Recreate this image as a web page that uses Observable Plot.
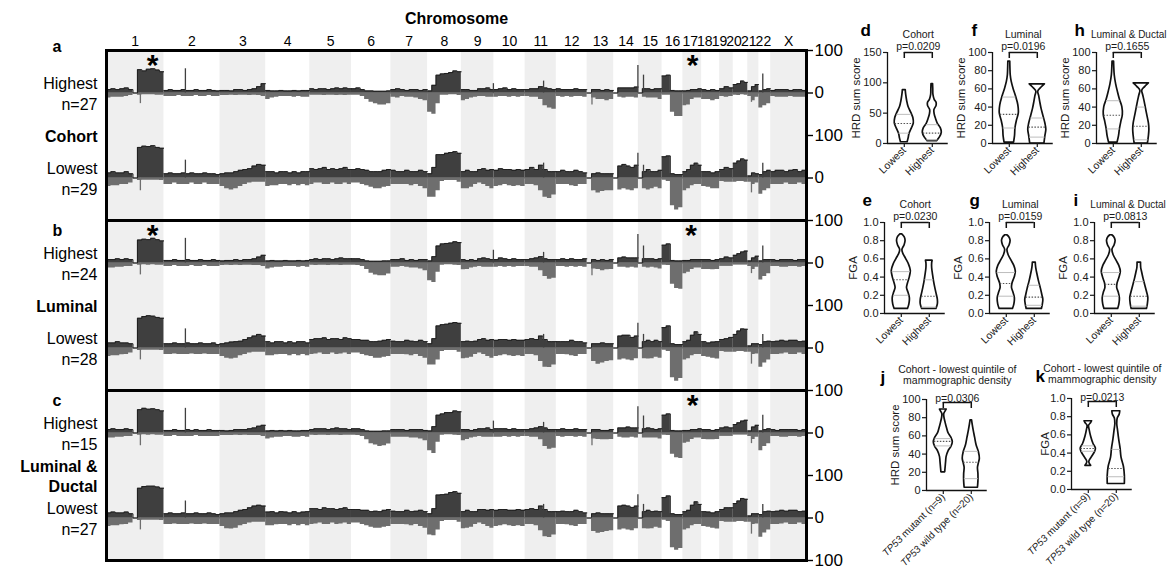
<!DOCTYPE html>
<html><head><meta charset="utf-8">
<script src="https://cdn.jsdelivr.net/npm/d3@7"></script>
<script src="https://cdn.jsdelivr.net/npm/@observablehq/plot@0.6"></script>
<style>
body{margin:0;background:#fff;font-family:"Liberation Sans",Arial,sans-serif;}
#fig{position:relative;width:1167px;height:569px;overflow:hidden;background:#fff;}
#fig svg{position:absolute;}
</style></head><body><div id="fig"></div>
<script>
// ---------- genome ----------
const chromNames = ["1","2","3","4","5","6","7","8","9","10","11","12","13","14","15","16","17","18","19","20","21","22","X"];
const chromLengths = [249.25,243.2,198.0,191.2,180.9,171.1,159.1,146.4,141.2,135.5,135.0,133.9,115.2,107.3,102.5,90.4,81.2,78.1,59.1,63.0,48.1,51.3,155.3];
const panels = ["a","b","c"];
const groupNames = ["Cohort","Luminal","Luminal &\nDuctal"];
const highestLabels = ["Highest\nn=27","Highest\nn=24","Highest\nn=15"];
const lowestLabels = ["Lowest\nn=29","Lowest\nn=28","Lowest\nn=27"];
const axisTickValues = [0,-100,-200,-300];
const axisTopTick = [100];

// ---------- frequencies (% of samples), one inner array per chromosome ----------
const aHighGain = [[8,10,8,10,12,8,0,55,52,56,57,54,50],[6,8,6,6,8,6,6,8,6,6,8,6,5],[6,6,5,8,8,6,8,10,15,22],[6,5,5,6,5,5,6,5,6,6],[10,8,10,10,8,10,12,10,12,10],[10,12,8,5,5,4,4,4,5],[8,10,8,6,8,8,6,8],[5,18,42,45,46,48,52,50],[8,8,6,6,10,10,12,8],[8,10,12,8,10,8,8],[8,10,10,15,12,10,8],[10,8,8,8,10,8,8],[0,8,8,6,8,6],[0,12,12,12,12,14],[0,10,10,8,10,10],[40,42,6,5,5],[5,6,8,8,10],[8,6,8,6],[10,15,12],[20,22,28,25],[5,15,20],[5,8,10],[6,8,8,8,6,8,8,6]];
const aHighLoss = [[12,10,10,10,8,6,0,5,4,4,4,5,5],[8,8,8,6,8,8,8,6,8,8,6,8,8],[6,6,5,6,5,5,6,5,6,8],[15,12,10,8,8,8,10,8,10,10],[5,5,5,6,5,5,6,5,6,5],[5,5,8,15,22,25,28,28,25],[10,12,8,10,10,12,15,18],[45,50,25,5,5,4,4,6],[18,15,12,10,8,8,10,10],[10,8,8,10,8,10,8],[8,10,10,15,30,35,38],[8,10,8,10,8,8,10],[0,12,15,15,18,15],[0,10,12,10,10,12],[0,10,12,12,12,15],[5,5,45,55,55],[30,28,15,12,12],[15,15,18,15],[8,10,8],[5,6,4,5],[8,18,10],[35,30,25],[8,10,10,10,8,10,10,10]];
const aLowGain = [[12,15,12,12,15,10,0,72,75,74,76,72,70],[10,12,10,10,12,10,12,10,10,12,10,10,8],[10,12,12,15,18,20,22,28,32,30],[15,15,12,15,15,12,15,12,15,15],[22,20,22,25,20,22,20,22,25,20],[20,22,20,18,15,15,15,18,20],[18,15,15,18,15,15,18,15],[10,25,55,55,58,60,62,58],[15,18,15,15,20,22,18,20],[18,22,20,20,18,20,18],[20,25,20,30,20,15,15],[15,18,15,15,18,15,12],[0,10,12,10,10,10],[0,28,32,28,25,30],[0,15,20,15,15,18],[50,52,10,8,8],[15,20,30,35,30],[15,15,12,15],[20,25,22],[35,40,45,42],[5,12,10],[8,15,18],[15,18,18,15,18,20,15,18]];
const aLowLoss = [[20,18,18,15,15,12,0,6,5,5,5,5,6],[15,15,12,15,15,15,12,15,15,12,15,15,15],[20,25,28,25,20,15,12,10,10,10],[20,18,18,15,15,18,15,18,15,18],[15,12,12,15,15,12,15,15,12,15],[12,12,15,18,22,25,25,22,20],[15,15,15,15,18,15,20,25],[45,45,30,8,6,6,6,10],[25,25,22,15,12,15,20,25],[20,18,15,18,20,18,20],[15,15,18,30,45,48,40],[15,15,15,18,20,15,15],[0,30,35,32,30,30],[0,28,25,28,30,25],[0,25,28,25,22,25],[5,8,65,75,70],[30,25,18,15,15],[20,22,25,25],[8,10,10],[10,8,8,10],[10,15,12],[38,30,25],[15,15,15,12,15,15,12,15]];
const bHighGain = [[8,8,10,8,10,8,0,54,56,55,58,55,52],[6,6,8,6,6,8,6,6,8,6,6,8,6],[5,6,6,8,6,8,8,10,14,18],[5,6,5,5,6,5,5,6,5,6],[8,10,8,10,10,8,10,12,10,10],[10,10,8,5,4,4,4,5,5],[8,8,10,6,8,6,8,8],[5,15,40,45,46,47,50,48],[8,6,8,6,10,12,10,8],[8,12,10,8,10,8,8],[8,10,12,15,10,8,8],[8,10,8,10,8,8,10],[0,8,6,8,6,8],[0,12,14,12,12,12],[0,10,10,10,8,10],[42,45,6,5,5],[6,6,8,8,8],[8,8,6,8],[10,14,12],[18,22,26,28],[5,12,16],[5,8,8],[8,6,8,8,8,6,8,8]];
const bHighLoss = [[12,12,10,10,8,8,0,5,4,5,4,5,5],[8,8,6,8,8,8,6,8,8,6,8,8,8],[6,5,6,5,6,5,5,6,6,8],[14,12,10,10,8,8,8,10,8,10],[5,6,5,5,6,5,5,6,5,5],[5,6,8,15,24,28,30,30,26],[10,10,8,10,12,12,14,18],[42,46,22,5,4,4,5,6],[16,15,12,10,8,10,10,10],[10,8,10,8,10,8,8],[8,10,10,18,32,38,36],[8,8,10,8,10,8,10],[0,14,15,18,16,15],[0,10,10,12,10,12],[0,10,12,10,12,14],[5,6,50,60,62],[25,22,15,12,12],[15,15,16,15],[8,8,8],[5,5,5,5],[8,15,10],[40,32,25],[8,8,10,10,8,8,10,8]];
const bLowGain = [[12,12,15,12,12,10,0,70,74,76,75,72,70],[10,10,12,10,10,12,10,10,12,10,10,12,8],[10,12,14,15,16,20,24,28,32,28],[15,12,15,15,12,15,12,15,15,12],[20,22,22,24,20,22,22,20,24,22],[20,20,18,18,15,15,16,18,20],[16,15,15,18,16,15,18,15],[10,22,52,55,56,58,60,58],[15,16,15,16,20,22,18,20],[18,20,20,18,20,18,18],[20,22,20,28,20,15,15],[15,15,15,18,15,15,12],[0,10,10,12,10,10],[0,28,30,30,25,28],[0,15,18,15,18,15],[48,52,10,8,8],[15,18,30,38,32],[15,12,14,15],[20,22,25],[32,40,45,44],[5,10,10],[8,15,16],[15,16,18,16,18,18,15,16]];
const bLowLoss = [[20,18,18,16,15,12,0,6,5,5,5,5,6],[15,15,14,15,15,15,14,15,15,14,15,15,15],[20,24,26,24,18,15,12,10,10,10],[18,18,16,15,15,18,15,18,15,18],[15,14,12,15,15,12,15,14,12,15],[12,12,15,18,20,24,24,22,20],[15,15,15,16,18,15,20,24],[40,40,28,8,6,6,6,10],[25,24,22,15,12,15,20,24],[20,18,16,18,20,18,20],[15,15,18,32,45,46,40],[15,15,16,18,20,15,15],[0,32,38,35,32,30],[0,28,26,28,30,25],[0,25,26,25,22,24],[5,8,70,78,72],[28,25,18,15,15],[20,22,24,26],[8,10,10],[10,8,8,10],[10,15,14],[45,35,28],[15,15,14,12,15,15,12,15]];
const cHighGain = [[8,10,8,8,10,8,0,55,58,56,57,55,52],[6,6,8,6,6,8,6,8,6,6,8,6,6],[6,5,6,8,8,8,10,12,16,18],[5,6,5,6,5,6,5,5,6,6],[8,10,10,10,8,10,12,10,10,8],[10,10,8,5,4,4,4,5,5],[8,8,8,6,8,8,8,6],[5,15,42,45,48,48,52,50],[8,8,6,8,10,10,12,8],[10,10,10,8,10,8,8],[8,10,12,15,12,8,8],[8,10,8,8,10,8,8],[0,8,8,6,6,8],[0,12,12,14,12,12],[0,10,12,10,8,10],[42,45,6,5,5],[6,6,8,8,10],[8,8,6,8],[12,14,12],[20,24,28,30],[5,14,18],[5,8,10],[8,6,8,8,8,8,6,8]];
const cHighLoss = [[12,12,10,10,8,8,0,5,4,5,4,5,5],[8,8,6,8,8,8,8,6,8,8,8,8,8],[6,6,6,5,6,5,6,6,6,8],[14,12,10,10,8,8,10,10,8,10],[5,6,5,5,6,5,5,6,5,5],[5,6,8,16,25,28,32,30,26],[10,10,10,10,12,12,14,18],[42,48,22,5,4,4,5,6],[18,15,12,10,8,10,10,10],[10,10,8,10,8,10,8],[8,10,10,16,32,38,36],[8,10,8,8,10,8,10],[0,14,15,16,16,15],[0,10,12,12,10,12],[0,12,12,12,12,14],[5,6,50,58,60],[24,22,15,12,12],[15,16,16,15],[8,8,8],[5,5,5,5],[8,15,10],[42,32,25],[8,8,10,10,8,8,10,8]];
const cLowGain = [[12,14,12,12,14,10,0,70,74,75,75,73,70],[10,12,10,10,12,10,10,12,10,10,12,10,8],[10,12,12,15,18,20,24,28,30,28],[14,15,12,15,14,12,15,12,14,15],[22,22,20,24,22,22,20,22,24,20],[20,20,18,18,15,16,15,18,20],[16,15,15,18,15,16,18,15],[10,22,54,55,56,60,62,58],[15,18,15,15,20,20,18,20],[18,20,20,18,18,20,18],[20,22,20,28,20,15,15],[15,16,15,15,18,15,12],[0,10,12,10,10,10],[0,28,30,28,25,28],[0,15,18,15,16,15],[48,52,10,8,8],[15,18,30,38,32],[15,14,12,15],[20,24,24],[34,40,46,44],[5,10,10],[8,15,16],[15,16,18,16,18,18,15,16]];
const cLowLoss = [[20,18,18,16,15,12,0,6,5,5,5,5,6],[15,15,14,15,15,15,14,15,15,14,15,15,15],[20,25,26,24,18,15,12,10,10,10],[18,18,16,15,15,18,15,18,15,18],[15,14,12,15,15,12,15,14,12,15],[12,12,15,18,22,24,24,22,20],[15,15,15,16,18,15,20,24],[40,42,28,8,6,6,6,10],[25,24,22,15,12,15,20,24],[20,18,16,18,20,18,20],[15,15,18,30,44,46,40],[15,15,16,18,20,15,15],[0,32,36,34,32,30],[0,28,26,28,30,25],[0,25,26,25,22,24],[5,8,70,76,72],[28,25,18,15,15],[20,22,24,26],[8,10,10],[10,8,8,10],[10,15,14],[45,35,28],[15,15,14,12,15,15,12,15]];
// narrow spikes: [chromosome index (1-based, 23 = X), position Mb, % (+gain / -loss)]
const aHighSpikes = [[1,147,-25],[2,93,57],[9,139,22],[11,80,28],[13,21,-28],[14,105,65],[15,22,42],[21,16,-22],[22,17,45]];
const aLowSpikes = [[1,147,-30],[2,93,42],[11,80,35],[13,21,-30],[14,105,58],[15,22,30],[21,16,-35],[22,17,35]];
const bHighSpikes = [[1,147,-28],[2,93,58],[9,139,30],[11,80,25],[13,21,-30],[14,105,67],[15,22,40],[21,16,-25],[22,17,40]];
const bLowSpikes = [[1,147,-28],[2,93,45],[11,80,32],[13,21,-28],[14,105,58],[15,22,32],[21,16,-38],[22,17,32]];
const cHighSpikes = [[1,147,-30],[2,93,58],[9,139,28],[11,80,25],[13,21,-30],[14,105,62],[15,22,40],[21,16,-25],[22,17,42]];
const cLowSpikes = [[1,147,-28],[2,93,40],[11,80,32],[13,21,-28],[14,105,55],[15,22,32],[21,16,-38],[22,17,32]];
// significance stars: [panel, chromosome index, position Mb]
const starMarks = [["a",1,200],["a",17,42],["b",1,200],["b",17,36],["c",17,42]];

// ---------- violin data: [value, relative density width] ----------
const groupsDensity = ["Lowest","Highest"];
const groupsTp53 = ["TP53 mutant (n=9)","TP53 wild type (n=20)"];
const hrdCohortLowest = [[2,0.35],[8,0.45],[16,0.55],[25,0.8],[33,1.0],[42,0.95],[50,0.75],[60,0.45],[70,0.3],[80,0.2],[88,0.15]];
const hrdCohortHighest = [[4,0.5],[10,0.8],[18,1.0],[25,0.9],[32,0.6],[40,0.4],[48,0.25],[55,0.22],[62,0.45],[67,0.45],[72,0.25],[80,0.12],[90,0.1],[98,0.08]];
const hrdLuminalLowest = [[1,0.5],[8,0.6],[17,0.65],[25,0.8],[33,1.0],[42,0.95],[52,0.7],[60,0.45],[68,0.25],[75,0.15],[82,0.12],[90,0.1]];
const hrdLuminalHighest = [[0,0.75],[8,0.85],[15,0.95],[22,0.85],[30,0.65],[38,0.45],[46,0.3],[52,0.2],[57,0.1],[61,0.4],[65,0.8]];
const hrdDuctalLowest = [[1,0.45],[8,0.6],[16,0.7],[24,0.85],[31,1.0],[40,0.95],[48,0.7],[56,0.5],[65,0.3],[75,0.15],[84,0.1],[90,0.08]];
const hrdDuctalHighest = [[0,0.7],[8,0.8],[15,0.85],[22,0.8],[30,0.65],[38,0.5],[46,0.35],[53,0.2],[58,0.1],[62,0.4],[66,0.8]];
const fgaCohortLowest = [[0.05,0.7],[0.1,0.85],[0.17,0.9],[0.23,0.75],[0.28,0.6],[0.33,0.7],[0.4,0.9],[0.47,1.0],[0.54,0.8],[0.6,0.5],[0.66,0.2],[0.7,0.12],[0.75,0.35],[0.8,0.45],[0.84,0.35],[0.87,0.1]];
const fgaCohortHighest = [[0.05,0.75],[0.1,0.9],[0.15,0.9],[0.2,0.8],[0.27,0.65],[0.35,0.5],[0.42,0.4],[0.5,0.3],[0.55,0.3],[0.58,0.35]];
const fgaLuminalLowest = [[0.05,0.7],[0.1,0.85],[0.17,0.9],[0.23,0.75],[0.28,0.6],[0.33,0.65],[0.4,0.9],[0.46,1.0],[0.52,0.85],[0.58,0.55],[0.64,0.25],[0.7,0.12],[0.75,0.35],[0.8,0.45],[0.84,0.3],[0.86,0.1]];
const fgaLuminalHighest = [[0.05,0.8],[0.1,0.9],[0.15,0.95],[0.2,0.85],[0.27,0.7],[0.35,0.5],[0.42,0.35],[0.5,0.2],[0.56,0.15]];
const fgaDuctalLowest = [[0.05,0.72],[0.1,0.85],[0.17,0.9],[0.23,0.78],[0.28,0.62],[0.33,0.66],[0.4,0.88],[0.46,1.0],[0.52,0.85],[0.58,0.55],[0.64,0.25],[0.7,0.12],[0.75,0.35],[0.8,0.45],[0.84,0.3],[0.86,0.1]];
const fgaDuctalHighest = [[0.05,0.8],[0.1,0.9],[0.17,0.95],[0.22,0.85],[0.3,0.65],[0.38,0.45],[0.45,0.3],[0.5,0.2],[0.56,0.18]];
const hrdTp53Mutant = [[20,0.2],[26,0.25],[32,0.3],[37,0.35],[43,0.55],[48,0.85],[53,1.0],[58,0.85],[63,0.55],[68,0.4],[74,0.25],[80,0.12],[84,0.1],[87,0.25],[89,0.35]];
const hrdTp53Wild = [[3,0.7],[10,0.75],[18,0.75],[25,0.7],[30,0.8],[35,0.9],[42,0.8],[50,0.55],[58,0.4],[66,0.25],[72,0.15],[77,0.08]];
const fgaTp53Mutant = [[0.26,0.3],[0.3,0.1],[0.35,0.35],[0.41,0.7],[0.45,0.8],[0.5,0.55],[0.58,0.3],[0.65,0.15],[0.7,0.08],[0.73,0.3],[0.75,0.4]];
const fgaTp53Wild = [[0.06,0.9],[0.15,0.9],[0.25,0.8],[0.35,0.55],[0.45,0.45],[0.55,0.3],[0.65,0.18],[0.72,0.1],[0.78,0.15],[0.82,0.35],[0.86,0.42]];
// [first quartile, median, third quartile] per group
const hrdCohortQuart = [[17,33,48],[6,17,31]];
const hrdLuminalQuart = [[17,32,51],[7,18,28]];
const hrdDuctalQuart = [[16,31,47],[4,19,40]];
const fgaCohortQuart = [[0.2,0.37,0.46],[0.07,0.19,0.37]];
const fgaLuminalQuart = [[0.19,0.33,0.45],[0.09,0.18,0.31]];
const fgaDuctalQuart = [[0.19,0.32,0.45],[0.08,0.19,0.35]];
const hrdTp53Quart = [[49,54,57],[13,31,43]];
const fgaTp53Quart = [[0.42,0.45,0.48],[0.14,0.23,0.44]];
const pValues = {d:"p=0.0209",e:"p=0.0230",f:"p=0.0196",g:"p=0.0159",h:"p=0.1655",i:"p=0.0813",j:"p=0.0306",k:"p=0.0213"};

// ---------- styles ----------
const FONT = "'Liberation Sans', Arial, sans-serif";
const gainColor = "#3f3f3f", gainEdge = "#1c1c1c", lossColor = "#6e6e6e", bandColor = "#efefef";
const fig = document.getElementById("fig");

// ---------- left: copy-number frequency profiles ----------
const cumStart = []; let acc = 0;
for (const l of chromLengths) { cumStart.push(acc); acc += l; }
const genomeLen = acc;
const bands = chromLengths.map((l, i) => ({x1: cumStart[i], x2: cumStart[i] + l, odd: i % 2 === 0})).filter(d => d.odd);
// chromosome labels: centred on each chromosome; the small ones (17-22) packed evenly over their span
const packFirst = 16, packLast = 21;
const packStart = cumStart[packFirst], packEnd = cumStart[packLast] + chromLengths[packLast];
const chromLabelData = chromNames.map((name, i) => ({panel: "a", name,
  x: (i >= packFirst && i <= packLast)
    ? packStart + (i - packFirst + 0.5) * (packEnd - packStart) / (packLast - packFirst + 1)
    : cumStart[i] + chromLengths[i] / 2}));

const tracks = [
  {panel:"a", off:0, gain:aHighGain, loss:aHighLoss, spikes:aHighSpikes},
  {panel:"a", off:-200, gain:aLowGain, loss:aLowLoss, spikes:aLowSpikes},
  {panel:"b", off:0, gain:bHighGain, loss:bHighLoss, spikes:bHighSpikes},
  {panel:"b", off:-200, gain:bLowGain, loss:bLowLoss, spikes:bLowSpikes},
  {panel:"c", off:0, gain:cHighGain, loss:cHighLoss, spikes:cHighSpikes},
  {panel:"c", off:-200, gain:cLowGain, loss:cLowLoss, spikes:cLowSpikes}
];
function toSteps(perChrom, panel, off, sign, tag) {
  const out = [];
  perChrom.forEach((vals, c) => {
    const w = chromLengths[c] / vals.length, key = `${tag}-${panel}-${off}-${c}`;
    vals.forEach((v, i) => out.push({panel, key, x: cumStart[c] + i * w, base: off, top: off + sign * v}));
    out.push({panel, key, x: cumStart[c] + chromLengths[c], base: off, top: off + sign * vals[vals.length - 1]});
  });
  return out;
}
const gainSteps = tracks.flatMap(t => toSteps(t.gain, t.panel, t.off, 1, "g"));
const lossSteps = tracks.flatMap(t => toSteps(t.loss, t.panel, t.off, -1, "l"));
const spikes = tracks.flatMap(t => t.spikes.map(([c, p, v]) => ({panel: t.panel, x: cumStart[c - 1] + p, y1: t.off, y2: t.off + v})));
const stars = starMarks.map(([panel, c, p]) => ({panel, x: cumStart[c - 1] + p}));
const trackLabels = panels.flatMap((p, i) => [
  {panel: p, y: 0, text: highestLabels[i]},
  {panel: p, y: -200, text: lowestLabels[i]}
]);
const groupLabels = panels.map((p, i) => ({panel: p, y: -100, text: groupNames[i]}));
const rightAxisFormat = d => String(Math.abs(d <= -100 ? d + 200 : d));

const left = Plot.plot({
  width: 850, height: 569,
  marginTop: 49, marginBottom: 9, marginLeft: 106, marginRight: 44,
  style: {background: "transparent", overflow: "visible", fontFamily: FONT, color: "#000"},
  x: {domain: [0, genomeLen], axis: null},
  y: {domain: [-300, 100], axis: null},
  fy: {domain: panels, axis: null, padding: 0},
  marks: [
    Plot.rect(bands, {x1: "x1", x2: "x2", fill: bandColor}),
    Plot.ruleY([0, -200], {stroke: "#333", strokeWidth: 0.8}),
    Plot.areaY(lossSteps, {x: "x", y1: "base", y2: "top", z: "key", fy: "panel", curve: "step-after", fill: lossColor}),
    Plot.areaY(gainSteps, {x: "x", y1: "base", y2: "top", z: "key", fy: "panel", curve: "step-after", fill: gainColor}),
    Plot.line(gainSteps, {x: "x", y: "top", z: "key", fy: "panel", curve: "step-after", stroke: gainEdge, strokeWidth: 0.9}),
    Plot.ruleX(spikes.filter(d => d.y2 > d.y1), {x: "x", y1: "y1", y2: "y2", fy: "panel", stroke: gainColor, strokeWidth: 1.3}),
    Plot.ruleX(spikes.filter(d => d.y2 < d.y1), {x: "x", y1: "y1", y2: "y2", fy: "panel", stroke: lossColor, strokeWidth: 1.3}),
    Plot.frame({stroke: "#000", strokeWidth: 3}),
    Plot.text(chromLabelData, {fy: "panel", x: "x", text: "name", frameAnchor: "top", lineAnchor: "bottom", dy: -5, fontSize: 14}),
    Plot.axisY({anchor: "right", ticks: axisTickValues, tickFormat: rightAxisFormat, tickSize: 6, tickPadding: 2, fontSize: 17, label: null, strokeWidth: 1.4}),
    Plot.axisY({anchor: "right", facetAnchor: "top", ticks: axisTopTick, tickFormat: rightAxisFormat, tickSize: 6, tickPadding: 2, fontSize: 17, label: null, strokeWidth: 1.4}),
    Plot.text([{panel: "a"}], {fy: "panel", frameAnchor: "top", text: () => "Chromosome", lineAnchor: "middle", dy: -32, fontWeight: "bold", fontSize: 16}),
    Plot.text(stars, {fy: "panel", x: "x", frameAnchor: "top", text: () => "*", lineAnchor: "top", dy: 3, fontSize: 30, fontWeight: "bold"}),
    Plot.text(trackLabels, {fy: "panel", y: "y", text: "text", frameAnchor: "left", dx: -9, textAnchor: "end", fontSize: 16, lineHeight: 1.3}),
    Plot.text(groupLabels, {fy: "panel", y: "y", text: "text", frameAnchor: "left", dx: -9, textAnchor: "end", fontSize: 16, fontWeight: "bold", lineHeight: 1.25}),
    Plot.text([{panel: "a"}], {fy: "panel", text: "panel", frameAnchor: "top-left", lineAnchor: "middle", dx: -54, dy: -4, fontSize: 16, fontWeight: "bold"}),
    Plot.text([{panel: "b"}, {panel: "c"}], {fy: "panel", text: "panel", frameAnchor: "top-left", lineAnchor: "middle", dx: -54, dy: 10, fontSize: 16, fontWeight: "bold"})
  ]
});
left.style.left = "0px"; left.style.top = "0px";
fig.appendChild(left);

// ---------- right: violin plots ----------
function widthAt(profile, v) {
  for (let i = 1; i < profile.length; i++) {
    const [a, wa] = profile[i - 1], [b, wb] = profile[i];
    if (v >= a && v <= b) return wa + (wb - wa) * (v - a) / (b - a);
  }
  return 0;
}
const fmtInt = d => String(d), fmt1 = d3.format(".1f");
const violins = [
  {id:"d", axisX:887, yTop:52, letterDx:-27, titleX:0.5, title:"Cohort", yMax:150, ticks:[0,50,100,150], fmt:fmtInt, yLabel:"HRD sum score", cats:groupsDensity, prof:[hrdCohortLowest,hrdCohortHighest], quart:hrdCohortQuart, row:1},
  {id:"f", axisX:992, yTop:52, letterDx:-21, titleX:0.5, title:"Luminal", yMax:100, ticks:[0,20,40,60,80,100], fmt:fmtInt, yLabel:"HRD sum score", cats:groupsDensity, prof:[hrdLuminalLowest,hrdLuminalHighest], quart:hrdLuminalQuart, row:1},
  {id:"h", axisX:1096, yTop:52, letterDx:-22, titleX:0.55, title:"Luminal & Ductal", yMax:100, ticks:[0,20,40,60,80,100], fmt:fmtInt, yLabel:"HRD sum score", cats:groupsDensity, prof:[hrdDuctalLowest,hrdDuctalHighest], quart:hrdDuctalQuart, row:1},
  {id:"e", axisX:884, yTop:222, letterDx:-22, titleX:0.5, title:"Cohort", yMax:1, ticks:[0,0.2,0.4,0.6,0.8,1], fmt:fmt1, yLabel:"FGA", cats:groupsDensity, prof:[fgaCohortLowest,fgaCohortHighest], quart:fgaCohortQuart, row:2},
  {id:"g", axisX:989, yTop:222, letterDx:-20, titleX:0.5, title:"Luminal", yMax:1, ticks:[0,0.2,0.4,0.6,0.8,1], fmt:fmt1, yLabel:"FGA", cats:groupsDensity, prof:[fgaLuminalLowest,fgaLuminalHighest], quart:fgaLuminalQuart, row:2},
  {id:"i", axisX:1094, yTop:222, letterDx:-21, titleX:0.6, title:"Luminal & Ductal", yMax:1, ticks:[0,0.2,0.4,0.6,0.8,1], fmt:fmt1, yLabel:"FGA", cats:groupsDensity, prof:[fgaDuctalLowest,fgaDuctalHighest], quart:fgaDuctalQuart, row:2},
  {id:"j", axisX:926, yTop:399, letterDx:-46, titleX:0.5, title:"Cohort - lowest quintile of\nmammographic density", yMax:100, ticks:[0,20,40,60,80,100], fmt:fmtInt, yLabel:"HRD sum score", cats:groupsTp53, prof:[hrdTp53Mutant,hrdTp53Wild], quart:hrdTp53Quart, row:3},
  {id:"k", axisX:1071, yTop:398, letterDx:-36, titleX:0.5, title:"Cohort - lowest quintile of\nmammographic density", yMax:1, ticks:[0,0.2,0.4,0.6,0.8,1], fmt:fmt1, yLabel:"FGA", cats:groupsTp53, prof:[fgaTp53Mutant,fgaTp53Wild], quart:fgaTp53Quart, row:3}
];

const CAT_PX = 28, X_DOMAIN = [-0.6, 1.57], INNER_H = 91, HALF_W = 0.34;
const mL = 50, mR = 14, mT = 56, mB = 90;
for (const v of violins) {
  const innerW = (X_DOMAIN[1] - X_DOMAIN[0]) * CAT_PX;
  const shapes = [];
  v.prof.forEach((p, k) => p.forEach(([val, w]) => shapes.push({k, val, w})));
  const qLines = [], medLines = [];
  v.quart.forEach((q, k) => {
    q.forEach((val, j) => {
      const w = widthAt(v.prof[k], val) * HALF_W * 0.97;
      (j === 1 ? medLines : qLines).push({val, x1: k - w, x2: k + w});
    });
  });
  const bv = v.row === 3 ? v.yMax * (1 - 3 / INNER_H) : v.yMax;
  const bt = v.yMax * 6 / INNER_H;
  const longTitle = v.title.length > 12 && v.row !== 3;
  const svg = Plot.plot({
    width: mL + innerW + mR, height: mT + INNER_H + mB,
    marginLeft: mL, marginRight: mR, marginTop: mT, marginBottom: mB,
    style: {background: "transparent", overflow: "visible", fontFamily: FONT, color: "#1a1a1a"},
    x: {domain: X_DOMAIN},
    y: {domain: [0, v.yMax]},
    marks: [
      Plot.areaX(shapes, {y: "val", x1: d => d.k - d.w * HALF_W, x2: d => d.k + d.w * HALF_W, z: "k", fill: "white", stroke: "#111", strokeWidth: 1.7, curve: "catmull-rom"}),
      Plot.ruleY(qLines, {y: "val", x1: "x1", x2: "x2", stroke: "#bdbdbd", strokeWidth: 1}),
      Plot.ruleY(medLines, {y: "val", x1: "x1", x2: "x2", stroke: "#555", strokeWidth: 1.1, strokeDasharray: "1.5,1.5"}),
      Plot.ruleY([0], {stroke: "#111", strokeWidth: 1.3}),
      Plot.ruleX([X_DOMAIN[0]], {stroke: "#111", strokeWidth: 1.3}),
      Plot.axisY({ticks: v.ticks, tickFormat: v.fmt, tickSize: 4, tickPadding: 2, fontSize: 11, label: null, strokeWidth: 1.2}),
      Plot.axisX({ticks: [0, 1], tickFormat: d => v.cats[d], tickRotate: -45, tickSize: 4, tickPadding: 1, fontSize: v.row === 3 ? 10 : 10.5, label: null, strokeWidth: 1.2}),
      Plot.text([v.yLabel], {frameAnchor: "left", rotate: -90, textAnchor: "middle", dx: v.id === "k" ? -26 : -31, fontSize: 11.5}),
      Plot.ruleY([{y: bv}], {y: "y", x1: () => 0, x2: () => 1, stroke: "#111", strokeWidth: 1.5}),
      Plot.ruleX([0, 1], {x: d => d, y1: () => bv, y2: () => bv - bt, stroke: "#111", strokeWidth: 1.5}),
      Plot.text([pValues[v.id]], {x: () => 0.5, frameAnchor: "top", lineAnchor: "bottom", dy: v.row === 3 ? 3 : -2, fontSize: 10.5}),
      Plot.text([v.title], {x: () => v.titleX, frameAnchor: "top", lineAnchor: "bottom", dy: v.row === 3 ? -15 : -14, fontSize: longTitle ? 10 : 10.5, lineHeight: 1.1}),
      Plot.text([v.id], {frameAnchor: "top-left", lineAnchor: "middle", dx: v.letterDx, dy: -22, fontSize: 17, fontWeight: "bold", fill: "#000"})
    ]
  });
  svg.style.left = (v.axisX - mL) + "px";
  svg.style.top = (v.yTop - mT) + "px";
  // italic gene name in the TP53 tick labels
  svg.querySelectorAll("text").forEach(t => {
    if (t.textContent.startsWith("TP53 ")) {
      const rest = t.textContent.slice(4);
      t.textContent = "";
      const it = document.createElementNS("http://www.w3.org/2000/svg", "tspan");
      it.setAttribute("font-style", "italic"); it.textContent = "TP53";
      const rs = document.createElementNS("http://www.w3.org/2000/svg", "tspan");
      rs.textContent = rest;
      t.appendChild(it); t.appendChild(rs);
    }
  });
  fig.appendChild(svg);
}
</script></body></html>
